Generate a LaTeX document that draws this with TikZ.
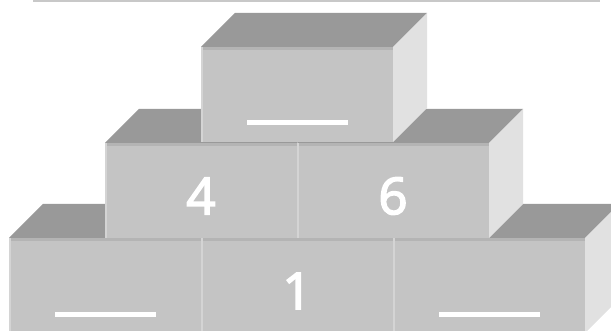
\documentclass[tikz,border=0pt]{standalone}
\usepackage{fontspec}
\setmainfont{Open Sans}
\newfontfamily\numfont[FakeBold=3]{Open Sans}
\usetikzlibrary{calc}
\definecolor{frontc}{HTML}{C4C4C4}
\definecolor{topc}{HTML}{999999}
\definecolor{sidec}{HTML}{E1E1E1}
\definecolor{edgedark}{HTML}{B4B4B4}
\definecolor{edgelight}{HTML}{D4D4D4}
\definecolor{rulec}{HTML}{C8C8C8}
\newcommand\blockcube[3]{%
  \fill[topc] (#2,#3) -- ++(34,-34) -- ++(192,0) -- ++(-34,34) -- cycle;
  \fill[sidec] (#2+192,#3) -- ++(34,-34) -- ++(0,95) -- ++(-34,34) -- cycle;
  \node[frontface] (#1) at (#2,#3) {};
  \fill[edgedark] (#2,#3) rectangle ++(192,3);
  \fill[edgelight] (#2,#3) rectangle ++(2,95);
}
\begin{document}
\begin{tikzpicture}[x=1pt,y=-1pt,
  frontface/.style={anchor=north west,minimum width=192pt,minimum height=95pt,inner sep=0pt,outer sep=0pt,fill=frontc},
  num/.style={text=white,font=\numfont\fontsize{51}{51}\selectfont,inner sep=0pt},
  blank/.style={fill=white,minimum width=101pt,minimum height=5pt,inner sep=0pt}]
\useasboundingbox (0,0) rectangle (611,331);
\clip (0,0) rectangle (611,331);
\coordinate (ruleL) at (33,1);
\coordinate (ruleR) at (600,1);
\draw[rulec,line width=1.6pt] (ruleL) -- (ruleR);
% bottom row
\blockcube{b1}{9}{238}
\blockcube{b2}{201}{238}
\blockcube{b3}{393}{238}
% middle row
\blockcube{m1}{105}{143}
\blockcube{m2}{297}{143}
% top
\blockcube{t1}{201}{47}
% labels
\node[num] (n4) at ($(m1.center)+(0,5.5)$) {4};
\node[num] (n6) at ($(m2.center)+(0,5.5)$) {6};
\node[num] (n1) at ($(b2.center)+(0,5.5)$) {1};
\node[blank] (bt) at (297.5,122.5) {};
\node[blank] (bl) at (105,314.5) {};
\node[blank] (br) at (489.5,314.5) {};
\end{tikzpicture}
\end{document}
